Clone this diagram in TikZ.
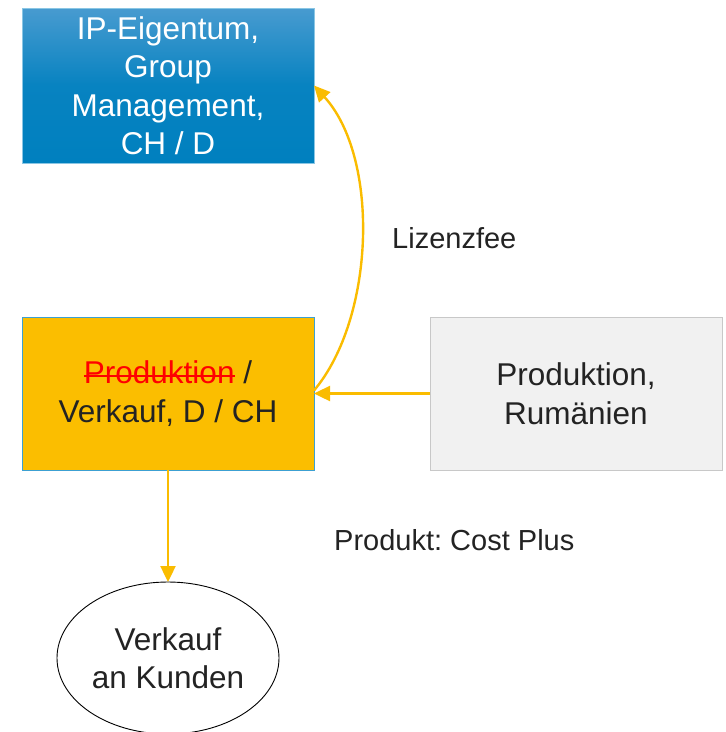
\documentclass[tikz,border=0pt]{standalone}
\usepackage{fontspec}
\setmainfont{Liberation Sans}
\frenchspacing
\newcommand{\durchgestrichen}[1]{\setbox0=\hbox{#1}\rlap{\copy0}\rule[0.22em]{\wd0}{1.8pt}}
\usetikzlibrary{positioning, shapes.geometric, arrows.meta}
\definecolor{ipblau}{RGB}{0,128,191}
\definecolor{iphell}{RGB}{72,155,208}
\definecolor{gelb}{RGB}{251,190,0}
\definecolor{pfeilgelb}{RGB}{250,188,0}
\definecolor{randblau}{RGB}{60,160,210}
\definecolor{grau}{RGB}{241,241,241}
\definecolor{graurand}{RGB}{200,200,200}
\definecolor{schrift}{RGB}{35,35,35}
\begin{document}
\begin{tikzpicture}[x=1pt, y=-1pt,
  every node/.style={align=center, text=schrift, font=\fontsize{31.5}{38.5}\selectfont},
  box/.style={draw, rectangle, inner sep=0pt, outer sep=0pt, minimum width=292pt, minimum height=153pt},
  label/.style={font=\fontsize{29}{35}\selectfont, anchor=base west, inner sep=0pt},
  pfeil/.style={draw=pfeilgelb, line width=2.4pt, -{Triangle[length=16pt, width=15pt]}}]
\useasboundingbox (0,0) rectangle (726,732);

\node (ip) [box, minimum height=155pt, draw=randblau!60, line width=1pt, top color=iphell, bottom color=ipblau, middle color=ipblau!90!iphell, text=white] at (168,85.5) {IP-Eigentum,\\Group\\Management,\\CH / D};
\node (vertrieb) [box, draw=randblau, line width=1pt, fill=gelb, below=154pt of ip] {\textcolor{red}{\durchgestrichen{Produktion}} /\\Verkauf, D / CH};
\node (rumaenien) [box, draw=graurand, line width=1pt, fill=grau, right=116pt of vertrieb] {Produktion,\\Rumänien};
\node (kunde) [ellipse, draw, line width=0.9pt, inner sep=0pt, outer sep=0pt, minimum width=222pt, minimum height=152pt, below=112pt of vertrieb] {Verkauf\\an Kunden};

\draw[pfeil] (rumaenien) -- (vertrieb);
\draw[pfeil] (vertrieb) -- (kunde);
\draw[pfeil] ([yshift=3pt]vertrieb.east) .. controls (375,318) and (380,158) .. (ip.east);

\node (lizenz) [label] at (392,248) {Lizenzfee};
\node (costplus) [label] at (334,550) {Produkt: Cost Plus};
\end{tikzpicture}
\end{document}
